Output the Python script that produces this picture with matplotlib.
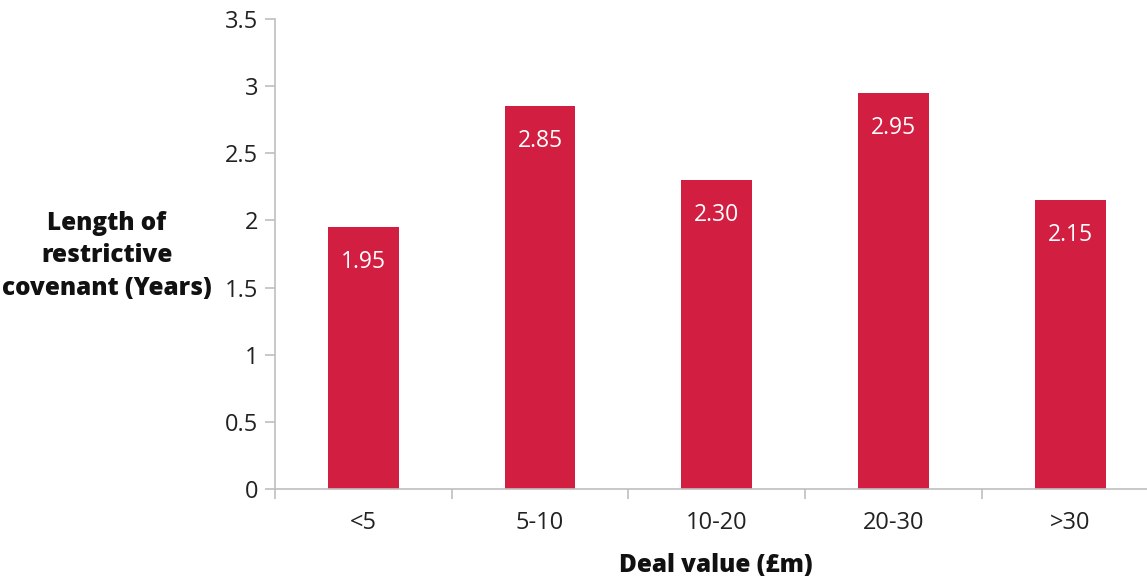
import matplotlib.pyplot as plt
import numpy as np

plt.rcParams['font.family'] = ['Open Sans', 'DejaVu Sans']

# Data
categories = ["<5", "5-10", "10-20", "20-30", ">30"]
values = [1.95, 2.85, 2.30, 2.95, 2.15]
value_labels = ["1.95", "2.85", "2.30", "2.95", "2.15"]
y_ticks = [0, 0.5, 1, 1.5, 2, 2.5, 3, 3.5]
y_tick_labels = ["0", "0.5", "1", "1.5", "2", "2.5", "3", "3.5"]

bar_color = '#D21E40'
axis_grey = '#BFBFBF'

fig = plt.figure(figsize=(11.47, 5.83), dpi=100)
ax = fig.add_axes([0.2398, 0.1612, 0.7703, 0.8062])

x = np.arange(len(categories))
bars = ax.bar(x, values, width=0.40, color=bar_color, zorder=2)

# value labels inside bars, near the top
for xi, v, lab in zip(x, values, value_labels):
    ax.annotate(lab, xy=(xi, v), xytext=(0, -25), textcoords='offset points',
                ha='center', va='center', color='white', fontsize=16.5)

ax.set_xlim(-0.5, len(categories) - 0.5)
ax.set_ylim(0, 3.5)
ax.set_yticks(y_ticks)
ax.set_yticklabels(y_tick_labels, fontsize=17, color='#222222')

ax.set_xticks(x)
ax.set_xticklabels(categories, fontsize=17, color='#222222')
ax.set_xticks(np.arange(-0.5, len(categories), 1.0), minor=True)
ax.tick_params(axis='x', which='major', length=0, pad=16)
ax.tick_params(axis='x', which='minor', length=7, color=axis_grey, width=1.2)
ax.tick_params(axis='y', length=7, color=axis_grey, width=1.2, pad=5)

for side in ['top', 'right']:
    ax.spines[side].set_visible(False)
for side in ['left', 'bottom']:
    ax.spines[side].set_color(axis_grey)
    ax.spines[side].set_linewidth(1.2)

fig.text(107 / 1147, 1 - 256 / 583, "Length of\nrestrictive\ncovenant (Years)",
         ha='center', va='center', fontsize=17.5, fontweight='heavy',
         linespacing=1.4, color='#111111')
fig.text(716 / 1147, 1 - 566 / 583, "Deal value (£m)", ha='center', va='center',
         fontsize=17.5, fontweight='heavy', color='#111111')

fig.savefig("out.png", dpi=100)
